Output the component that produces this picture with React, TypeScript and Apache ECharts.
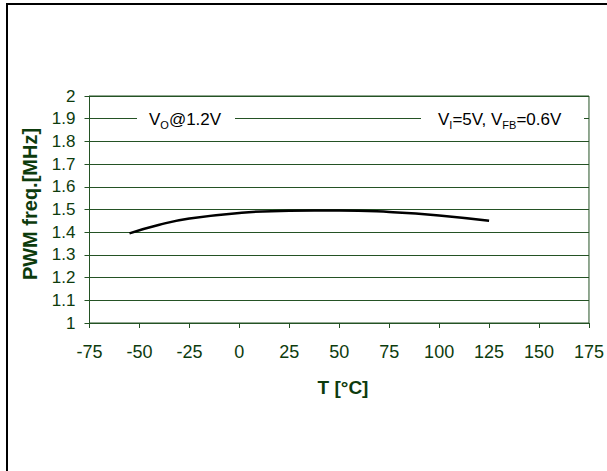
import React, { useEffect, useRef } from "react";
import * as echarts from "echarts";

const temperatures = [-55, -40, -25, 0, 25, 50, 75, 100, 125];
const pwmFreq = [1.395, 1.433, 1.46, 1.485, 1.495, 1.496, 1.489, 1.474, 1.45];
const xTicks = { min: -75, max: 175, interval: 25 };
const yTicks = { min: 1, max: 2, interval: 0.1 };
const xName = "T [°C]";
const yName = "PWM freq.[MHz]";

const TEXT = "#0d3b0d";
const GRID = "#245224";
const FONT = "'Liberation Sans', Arial, Helvetica, sans-serif";

export default function App() {
  const ref = useRef<HTMLDivElement>(null);
  useEffect(() => {
    document.body.style.margin = "0";
    if (!ref.current) return;
    const chart = echarts.init(ref.current, undefined, { renderer: "svg" });
    const sub = { fontSize: 11, fontFamily: FONT, color: TEXT, padding: [12, 0, 0, 0] };
    const main = { fontSize: 17, fontFamily: FONT, color: TEXT };
    chart.setOption({
      animation: false,
      backgroundColor: "#ffffff",
      grid: {
        left: 89.5,
        right: 12,
        top: 96,
        bottom: 148,
        show: true,
        borderColor: GRID,
        borderWidth: 1,
        containLabel: false,
      },
      xAxis: {
        type: "value",
        min: xTicks.min,
        max: xTicks.max,
        interval: xTicks.interval,
        axisLine: { show: true, onZero: false, lineStyle: { color: GRID, width: 1 } },
        axisTick: { show: true, inside: false, length: 5, lineStyle: { color: GRID } },
        splitLine: { show: false },
        axisLabel: { color: TEXT, fontSize: 18, fontFamily: FONT, margin: 20 },
      },
      yAxis: {
        type: "value",
        min: yTicks.min,
        max: yTicks.max,
        interval: yTicks.interval,
        axisLine: { show: true, onZero: false, lineStyle: { color: GRID, width: 1 } },
        axisTick: { show: true, inside: false, length: 5, lineStyle: { color: GRID } },
        splitLine: { show: true, lineStyle: { color: GRID, width: 1 } },
        axisLabel: {
          color: TEXT,
          fontSize: 17,
          fontFamily: FONT,
          margin: 14,
          formatter: (v: number) => String(Math.round(v * 10) / 10),
        },
      },
      series: [
        {
          type: "line",
          data: temperatures.map((t, i) => [t, pwmFreq[i]]),
          smooth: true,
          showSymbol: false,
          lineStyle: { color: "#000000", width: 2.5 },
        },
      ],
      graphic: [
        {
          type: "line",
          shape: { x1: 7, y1: 4, x2: 607, y2: 4 },
          style: { stroke: "#000", lineWidth: 2 },
        },
        {
          type: "line",
          shape: { x1: 7, y1: 3, x2: 7, y2: 471 },
          style: { stroke: "#000", lineWidth: 2 },
        },
        {
          type: "text",
          x: 30,
          y: 204,
          rotation: Math.PI / 2,
          style: {
            text: yName,
            fill: TEXT,
            font: `bold 20px ${FONT}`,
            align: "center",
            verticalAlign: "middle",
          },
        },
        {
          type: "text",
          x: 343,
          y: 387,
          style: {
            text: xName,
            fill: TEXT,
            font: `bold 19px ${FONT}`,
            align: "center",
            verticalAlign: "middle",
          },
        },
        {
          type: "rect",
          shape: { x: 137, y: 110, width: 98, height: 18 },
          style: { fill: "#ffffff" },
          z: 100,
        },
        {
          type: "rect",
          shape: { x: 421, y: 110, width: 163, height: 18 },
          style: { fill: "#ffffff" },
          z: 100,
        },
        {
          type: "text",
          x: 149,
          y: 119,
          z: 101,
          style: {
            text: "{m|V}{s|O}{m|@1.2V}",
            rich: { m: main, s: sub },
            align: "left",
            verticalAlign: "middle",
          },
        },
        {
          type: "text",
          x: 438,
          y: 119,
          z: 101,
          style: {
            text: "{m|V}{s|I}{m|=5V, V}{s|FB}{m|=0.6V}",
            rich: { m: main, s: sub },
            align: "left",
            verticalAlign: "middle",
          },
        },
      ],
    });
    return () => chart.dispose();
  }, []);
  return <div ref={ref} style={{ width: 607, height: 471 }} />;
}
